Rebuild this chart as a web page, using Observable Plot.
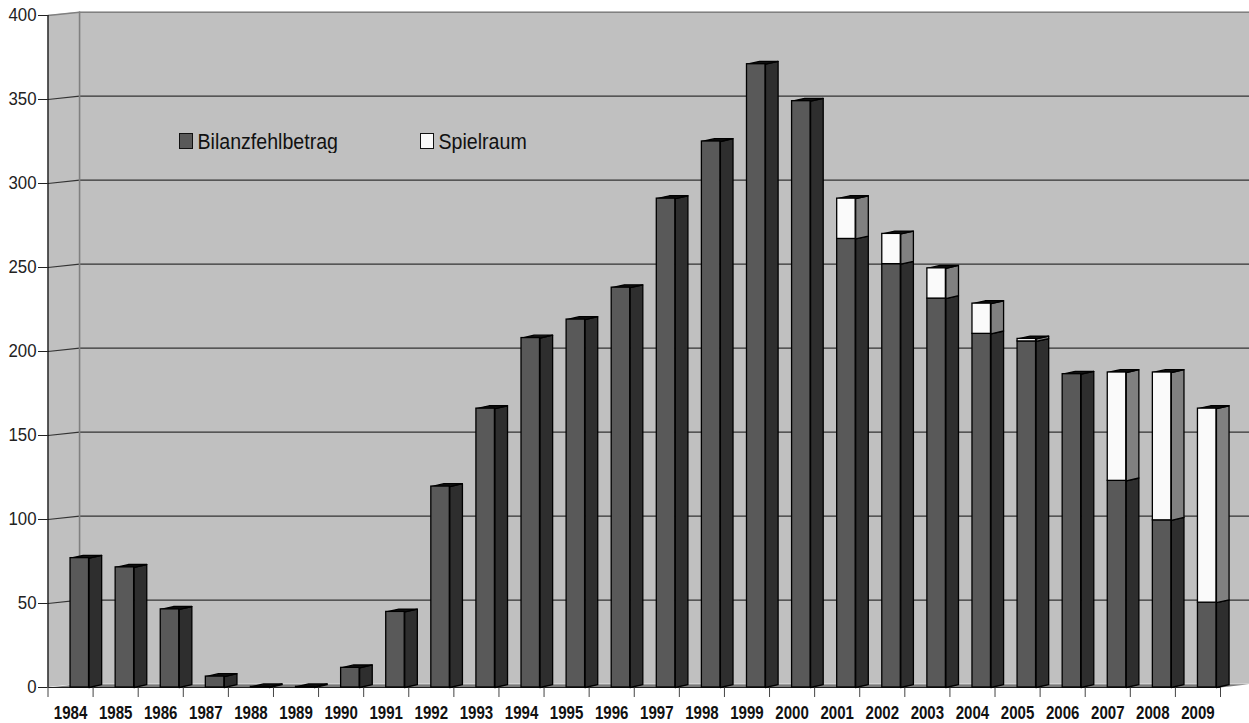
<!DOCTYPE html>
<html lang="de">
<head>
<meta charset="utf-8">
<script src="https://cdn.jsdelivr.net/npm/d3@7"></script>
<script src="https://cdn.jsdelivr.net/npm/@observablehq/plot@0.6"></script>
<style>
  html,body{margin:0;padding:0;background:#fff;}
  #wrap{position:relative;width:1249px;height:723px;overflow:hidden;}
  #wrap svg{display:block;position:absolute;left:0;top:0;}
  .lg{position:absolute;top:128px;display:flex;align-items:center;height:26px;font:19.6px "Liberation Sans",Arial,sans-serif;color:#111;}
  .lg i{display:inline-block;width:11.5px;height:14px;border:1px solid #111;margin-right:5px;}
  .lg span{display:inline-block;transform:scaleY(1.08);}
</style>
</head>
<body>
<div id="wrap"></div>
<script>
const years = [1984,1985,1986,1987,1988,1989,1990,1991,1992,1993,1994,1995,1996,1997,1998,1999,2000,2001,2002,2003,2004,2005,2006,2007,2008,2009];
const bilanzfehlbetrag = [77,71.5,46.5,6.5,0.4,0.4,11.7,45,119.6,166,208,219,238,291,325,371,349,267,252,231.5,210.5,206,186.5,123,99.5,50.5];
const spielraum = [0,0,0,0,0,0,0,0,0,0,0,0,0,0,0,0,0,24,18,18,18,1.5,0,64.5,88,115.5];
const yTicks = [0,50,100,150,200,250,300,350,400];
const seriesNames = ["Bilanzfehlbetrag","Spielraum"];
const seriesColors = ["#595959","#fafafa"];
const sideColors = ["#2e2e2e","#808080"];

// 3D projection offsets, in scale units
const wallDx = 0.7, wallDy = 2, xEnd = 26.65;
const barLeft = 0.5, barRight = 0.91, barBack = 1.19, barDepthX = 0.28, barDy = 1.7;

const bars = [];
years.forEach((year,i)=>{
  const b = bilanzfehlbetrag[i], s = spielraum[i];
  bars.push({i,series:0,v0:0,v1:b});
  if (s>0) bars.push({i,series:1,v0:b,v1:b+s});
});
const poly = (pts,id)=>pts.map(([x,y])=>({x,y,id}));
const sidePts = bars.flatMap((d,k)=>poly([
  [d.i+barRight,d.v0],[d.i+barBack,d.v0+barDy],[d.i+barBack,d.v1+barDy],[d.i+barRight,d.v1],[d.i+barRight,d.v0]
],k).map(p=>({...p,series:d.series})));
const topPts = bars.filter(d=>d.series===1||spielraum[d.i]===0).flatMap((d,k)=>poly([
  [d.i+barLeft,d.v1],[d.i+barLeft+barDepthX,d.v1+barDy],[d.i+barBack,d.v1+barDy],[d.i+barRight,d.v1],[d.i+barLeft,d.v1]
],k));
const wallSide = [{x:0,y1:0,y2:400},{x:wallDx,y1:wallDy,y2:400+wallDy}];
const wallBack = [{x:wallDx,y1:wallDy,y2:400+wallDy},{x:xEnd,y1:wallDy,y2:400+wallDy}];
const floor = poly([[0,0],[wallDx,wallDy],[xEnd,wallDy],[26,0],[0,0]],"f");
const grid = yTicks.filter(v=>v>0&&v<400).flatMap(v=>poly([[0,v],[wallDx,v+wallDy],[xEnd,v+wallDy]],v));
const topEdge = poly([[0,400],[wallDx,400+wallDy],[xEnd,400+wallDy]],"t");
const wallEdge = poly([[wallDx,wallDy],[wallDx,400+wallDy]],"w");

const chart = Plot.plot({
  width:1249,height:723,
  marginLeft:47.5,marginRight:29,marginTop:15,marginBottom:36,
  style:{background:"transparent",fontFamily:"'Liberation Sans',Arial,sans-serif",color:"#111"},
  x:{domain:[0,26],axis:null},
  y:{domain:[0,400],axis:null},
  marks:[
    Plot.areaY(wallSide,{x:"x",y1:"y1",y2:"y2",fill:"#c0c0c0"}),
    Plot.areaY(wallBack,{x:"x",y1:"y1",y2:"y2",fill:"#c0c0c0"}),
    Plot.line(floor,{x:"x",y:"y",fill:"#7a7a7a",stroke:"none"}),
    Plot.line(topEdge,{x:"x",y:"y",stroke:"#808080",strokeWidth:1.5}),
    Plot.line(grid,{x:"x",y:"y",z:"id",stroke:"#333",strokeWidth:1.1,curve:"linear"}),
    Plot.line(wallEdge,{x:"x",y:"y",stroke:"#808080",strokeWidth:1.6}),
    Plot.axisY({ticks:yTicks,tickSize:9.5,tickPadding:2,fontSize:18.5,stroke:"#222",fill:"#222",label:null}),
    Plot.ruleX([0],{y1:0,y2:400,stroke:"#000",strokeWidth:1.2}),
    Plot.ruleY([0],{x1:0,x2:26,stroke:"#222",strokeWidth:1.2}),
    Plot.axisX({ticks:d3.range(27),tickFormat:()=>"",tickSize:10,stroke:"#444",label:null}),
    Plot.text(years,{x:(d,i)=>i+barLeft,frameAnchor:"bottom",lineAnchor:"middle",dy:26,text:d=>String(d),fontSize:18,fontWeight:"bold",fill:"#111",className:"yearlabel"}),
    ...[0,1].map(sr=>Plot.line(sidePts.filter(p=>p.series===sr),{x:"x",y:"y",z:"id",fill:sideColors[sr],stroke:"#000",strokeWidth:1.3})),
    Plot.line(topPts,{x:"x",y:"y",z:"id",fill:"#111",stroke:"#000",strokeWidth:1.3}),
    Plot.rect(bars,{x1:d=>d.i+barLeft,x2:d=>d.i+barRight,y1:"v0",y2:"v1",fill:d=>seriesColors[d.series],stroke:"#000",strokeWidth:1.3})
  ]
});
// the reference's type is stretched vertically: keep the tall glyphs, fit the width
chart.querySelectorAll(".yearlabel text").forEach(t=>{
  t.setAttribute("textLength",33.5);t.setAttribute("lengthAdjust","spacingAndGlyphs");
});
chart.querySelectorAll('g[aria-label="y-axis tick label"] text').forEach(t=>{
  t.setAttribute("textLength",9.35*t.textContent.length);t.setAttribute("lengthAdjust","spacingAndGlyphs");
});
const wrap = document.getElementById("wrap");
wrap.appendChild(chart);
[[179,0],[420,1]].forEach(([left,k])=>{
  const el=document.createElement("div");
  el.className="lg";el.style.left=left+"px";
  const sw=document.createElement("i");sw.style.background=seriesColors[k];
  const label=document.createElement("span");label.textContent=seriesNames[k];
  el.appendChild(sw);el.appendChild(label);
  wrap.appendChild(el);
});
</script>
</body>
</html>
